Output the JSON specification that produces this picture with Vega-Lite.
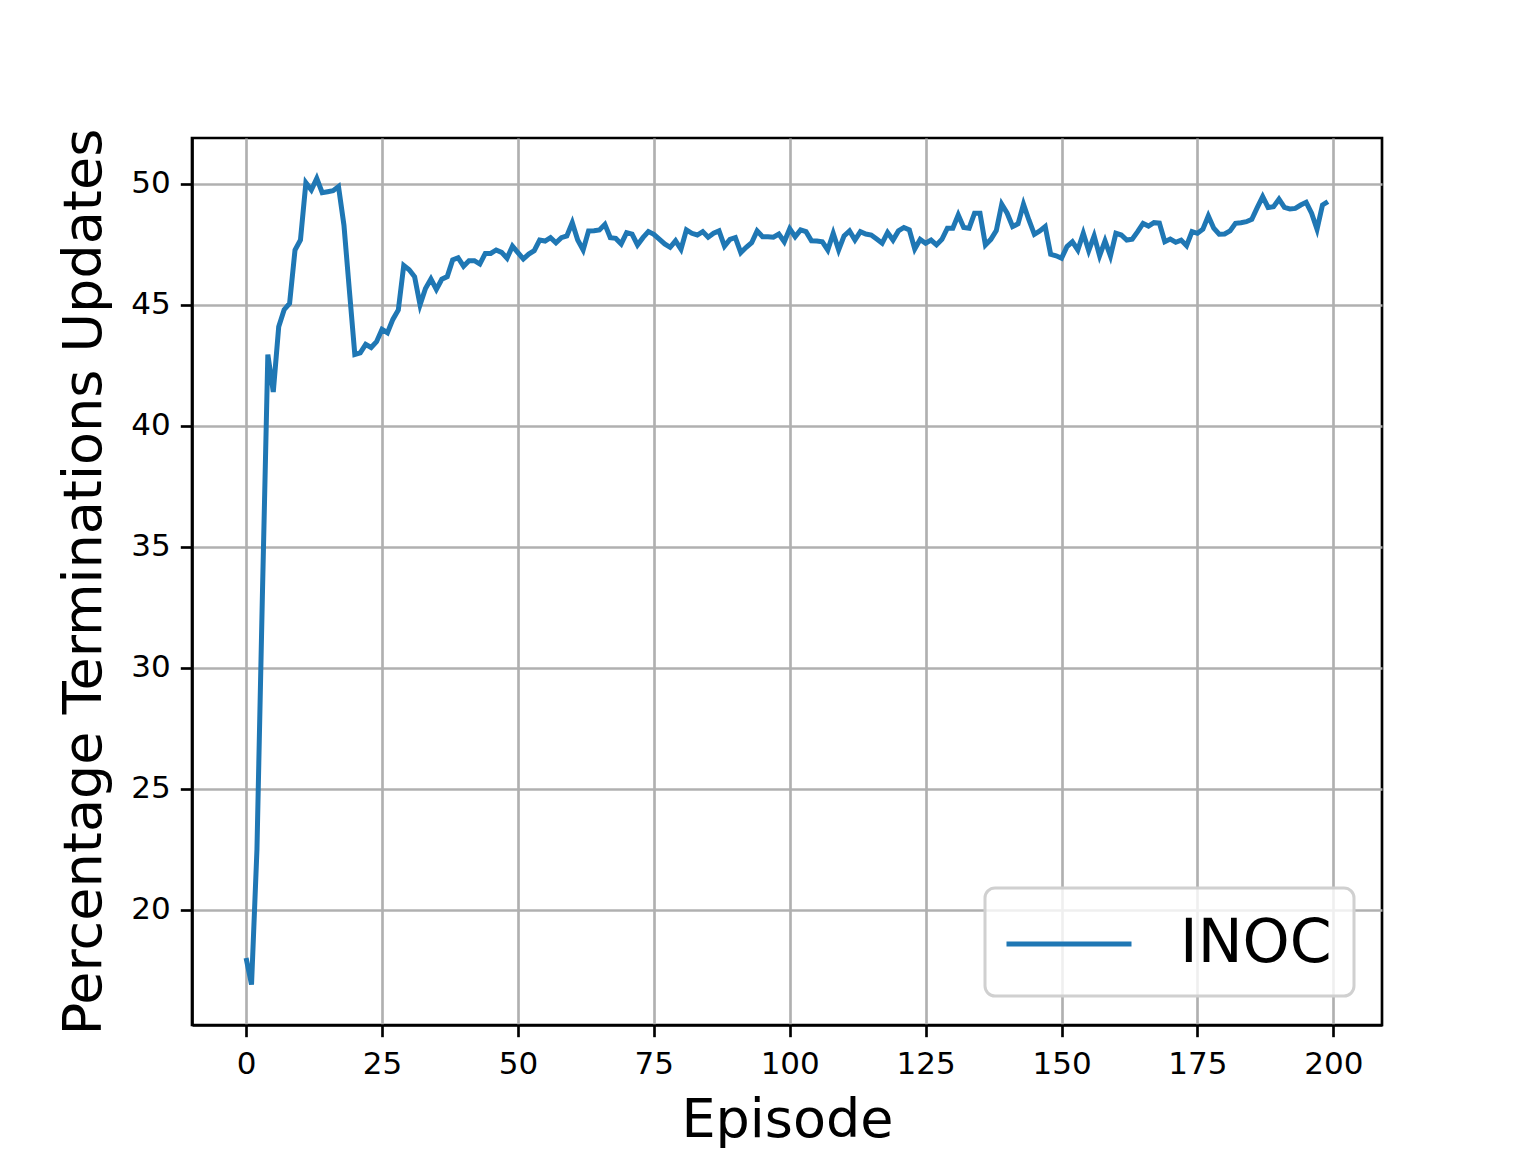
{
  "$schema": "https://vega.github.io/schema/vega-lite/v6.json",
  "width": 1190,
  "height": 887,
  "autosize": {"type": "none"},
  "padding": {"left": 192, "top": 138, "right": 154, "bottom": 127},
  "background": "white",
  "config": {
    "font": "DejaVu Sans",
    "view": {"stroke": "black", "strokeWidth": 2.67},
    "axis": {
      "domainColor": "black",
      "domainWidth": 2.67,
      "tickColor": "black",
      "tickWidth": 2.67,
      "tickSize": 11.7,
      "labelFont": "DejaVu Sans",
      "labelFontSize": 31,
      "labelColor": "black",
      "titleFont": "DejaVu Sans",
      "titleFontSize": 54,
      "titleFontWeight": "normal",
      "titleColor": "black",
      "grid": true,
      "gridColor": "#b0b0b0",
      "gridWidth": 2.67
    },
    "legend": {
      "orient": "none",
      "legendX": 793,
      "legendY": 750,
      "symbolType": "M-2,0H2",
      "symbolSize": 3906,
      "symbolStrokeWidth": 5,
      "symbolOffset": 28,
      "labelFont": "DejaVu Sans",
      "labelFontSize": 60,
      "labelColor": "black",
      "labelOffset": 77,
      "padding": 22,
      "strokeColor": "#cccccc",
      "fillColor": "rgba(255,255,255,0.8)",
      "cornerRadius": 10
    }
  },
  "data": {
    "values": [
      {"episode": 0, "pct": 18.0}, {"episode": 1, "pct": 16.9}, {"episode": 2, "pct": 22.5}, {"episode": 3, "pct": 33.0}, {"episode": 4, "pct": 42.95},
      {"episode": 5, "pct": 41.4}, {"episode": 6, "pct": 44.1}, {"episode": 7, "pct": 44.8}, {"episode": 8, "pct": 45.06}, {"episode": 9, "pct": 47.27},
      {"episode": 10, "pct": 47.68}, {"episode": 11, "pct": 50.05}, {"episode": 12, "pct": 49.75}, {"episode": 13, "pct": 50.23}, {"episode": 14, "pct": 49.64},
      {"episode": 15, "pct": 49.68}, {"episode": 16, "pct": 49.72}, {"episode": 17, "pct": 49.89}, {"episode": 18, "pct": 48.3}, {"episode": 19, "pct": 45.6},
      {"episode": 20, "pct": 42.95}, {"episode": 21, "pct": 43.02}, {"episode": 22, "pct": 43.37}, {"episode": 23, "pct": 43.24}, {"episode": 24, "pct": 43.48},
      {"episode": 25, "pct": 43.99}, {"episode": 26, "pct": 43.85}, {"episode": 27, "pct": 44.4}, {"episode": 28, "pct": 44.79}, {"episode": 29, "pct": 46.63},
      {"episode": 30, "pct": 46.45}, {"episode": 31, "pct": 46.16}, {"episode": 32, "pct": 45.0}, {"episode": 33, "pct": 45.68}, {"episode": 34, "pct": 46.07},
      {"episode": 35, "pct": 45.64}, {"episode": 36, "pct": 46.06}, {"episode": 37, "pct": 46.17}, {"episode": 38, "pct": 46.86}, {"episode": 39, "pct": 46.95},
      {"episode": 40, "pct": 46.6}, {"episode": 41, "pct": 46.83}, {"episode": 42, "pct": 46.83}, {"episode": 43, "pct": 46.69}, {"episode": 44, "pct": 47.13},
      {"episode": 45, "pct": 47.13}, {"episode": 46, "pct": 47.27}, {"episode": 47, "pct": 47.17}, {"episode": 48, "pct": 46.93}, {"episode": 49, "pct": 47.43},
      {"episode": 50, "pct": 47.16}, {"episode": 51, "pct": 46.9}, {"episode": 52, "pct": 47.1}, {"episode": 53, "pct": 47.24}, {"episode": 54, "pct": 47.68},
      {"episode": 55, "pct": 47.64}, {"episode": 56, "pct": 47.78}, {"episode": 57, "pct": 47.57}, {"episode": 58, "pct": 47.78}, {"episode": 59, "pct": 47.85},
      {"episode": 60, "pct": 48.4}, {"episode": 61, "pct": 47.68}, {"episode": 62, "pct": 47.27}, {"episode": 63, "pct": 48.06}, {"episode": 64, "pct": 48.07},
      {"episode": 65, "pct": 48.1}, {"episode": 66, "pct": 48.33}, {"episode": 67, "pct": 47.78}, {"episode": 68, "pct": 47.75}, {"episode": 69, "pct": 47.52},
      {"episode": 70, "pct": 47.99}, {"episode": 71, "pct": 47.93}, {"episode": 72, "pct": 47.48}, {"episode": 73, "pct": 47.78}, {"episode": 74, "pct": 48.03},
      {"episode": 75, "pct": 47.92}, {"episode": 76, "pct": 47.72}, {"episode": 77, "pct": 47.52}, {"episode": 78, "pct": 47.38}, {"episode": 79, "pct": 47.65},
      {"episode": 80, "pct": 47.3}, {"episode": 81, "pct": 48.1}, {"episode": 82, "pct": 47.96}, {"episode": 83, "pct": 47.89}, {"episode": 84, "pct": 48.03},
      {"episode": 85, "pct": 47.8}, {"episode": 86, "pct": 47.96}, {"episode": 87, "pct": 48.06}, {"episode": 88, "pct": 47.43}, {"episode": 89, "pct": 47.71},
      {"episode": 90, "pct": 47.78}, {"episode": 91, "pct": 47.16}, {"episode": 92, "pct": 47.38}, {"episode": 93, "pct": 47.57}, {"episode": 94, "pct": 48.06},
      {"episode": 95, "pct": 47.82}, {"episode": 96, "pct": 47.82}, {"episode": 97, "pct": 47.8}, {"episode": 98, "pct": 47.93}, {"episode": 99, "pct": 47.61},
      {"episode": 100, "pct": 48.15}, {"episode": 101, "pct": 47.82}, {"episode": 102, "pct": 48.1}, {"episode": 103, "pct": 48.03}, {"episode": 104, "pct": 47.65},
      {"episode": 105, "pct": 47.64}, {"episode": 106, "pct": 47.61}, {"episode": 107, "pct": 47.27}, {"episode": 108, "pct": 47.96}, {"episode": 109, "pct": 47.27},
      {"episode": 110, "pct": 47.85}, {"episode": 111, "pct": 48.06}, {"episode": 112, "pct": 47.68}, {"episode": 113, "pct": 48.03}, {"episode": 114, "pct": 47.93},
      {"episode": 115, "pct": 47.89}, {"episode": 116, "pct": 47.72}, {"episode": 117, "pct": 47.55}, {"episode": 118, "pct": 47.99}, {"episode": 119, "pct": 47.68},
      {"episode": 120, "pct": 48.06}, {"episode": 121, "pct": 48.2}, {"episode": 122, "pct": 48.1}, {"episode": 123, "pct": 47.31}, {"episode": 124, "pct": 47.71},
      {"episode": 125, "pct": 47.55}, {"episode": 126, "pct": 47.68}, {"episode": 127, "pct": 47.48}, {"episode": 128, "pct": 47.71}, {"episode": 129, "pct": 48.17},
      {"episode": 130, "pct": 48.17}, {"episode": 131, "pct": 48.72}, {"episode": 132, "pct": 48.2}, {"episode": 133, "pct": 48.17}, {"episode": 134, "pct": 48.79},
      {"episode": 135, "pct": 48.79}, {"episode": 136, "pct": 47.48}, {"episode": 137, "pct": 47.71}, {"episode": 138, "pct": 48.07}, {"episode": 139, "pct": 49.16},
      {"episode": 140, "pct": 48.79}, {"episode": 141, "pct": 48.24}, {"episode": 142, "pct": 48.35}, {"episode": 143, "pct": 49.16}, {"episode": 144, "pct": 48.51},
      {"episode": 145, "pct": 47.92}, {"episode": 146, "pct": 48.06}, {"episode": 147, "pct": 48.24}, {"episode": 148, "pct": 47.09}, {"episode": 149, "pct": 47.03},
      {"episode": 150, "pct": 46.93}, {"episode": 151, "pct": 47.41}, {"episode": 152, "pct": 47.61}, {"episode": 153, "pct": 47.27}, {"episode": 154, "pct": 47.96},
      {"episode": 155, "pct": 47.24}, {"episode": 156, "pct": 47.85}, {"episode": 157, "pct": 47.03}, {"episode": 158, "pct": 47.65}, {"episode": 159, "pct": 47.02},
      {"episode": 160, "pct": 47.96}, {"episode": 161, "pct": 47.89}, {"episode": 162, "pct": 47.68}, {"episode": 163, "pct": 47.72}, {"episode": 164, "pct": 48.03},
      {"episode": 165, "pct": 48.37}, {"episode": 166, "pct": 48.26}, {"episode": 167, "pct": 48.4}, {"episode": 168, "pct": 48.38}, {"episode": 169, "pct": 47.61},
      {"episode": 170, "pct": 47.72}, {"episode": 171, "pct": 47.59}, {"episode": 172, "pct": 47.68}, {"episode": 173, "pct": 47.45}, {"episode": 174, "pct": 48.03},
      {"episode": 175, "pct": 47.96}, {"episode": 176, "pct": 48.13}, {"episode": 177, "pct": 48.68}, {"episode": 178, "pct": 48.17}, {"episode": 179, "pct": 47.92},
      {"episode": 180, "pct": 47.93}, {"episode": 181, "pct": 48.06}, {"episode": 182, "pct": 48.37}, {"episode": 183, "pct": 48.4}, {"episode": 184, "pct": 48.44},
      {"episode": 185, "pct": 48.54}, {"episode": 186, "pct": 49.02}, {"episode": 187, "pct": 49.48}, {"episode": 188, "pct": 49.03}, {"episode": 189, "pct": 49.06},
      {"episode": 190, "pct": 49.37}, {"episode": 191, "pct": 49.03}, {"episode": 192, "pct": 48.97}, {"episode": 193, "pct": 48.99}, {"episode": 194, "pct": 49.13},
      {"episode": 195, "pct": 49.24}, {"episode": 196, "pct": 48.79}, {"episode": 197, "pct": 48.13}, {"episode": 198, "pct": 49.13}, {"episode": 199, "pct": 49.27}
    ]
  },
  "mark": {"type": "line", "strokeWidth": 5, "clip": true},
  "encoding": {
    "x": {
      "field": "episode",
      "type": "quantitative",
      "scale": {"domain": [-9.95, 208.95], "nice": false, "zero": false},
      "axis": {"values": [0, 25, 50, 75, 100, 125, 150, 175, 200], "title": "Episode", "titlePadding": 14, "labelPadding": 13, "labelFlush": false}
    },
    "y": {
      "field": "pct",
      "type": "quantitative",
      "scale": {"domain": [15.23, 51.9], "nice": false, "zero": false},
      "axis": {"values": [20, 25, 30, 35, 40, 45, 50], "title": "Percentage Terminations Updates", "titlePadding": 19, "labelPadding": 10, "labelFlush": false}
    },
    "color": {
      "datum": "INOC",
      "type": "nominal",
      "scale": {"range": ["#1f77b4"]},
      "legend": {
        "title": null,
        "encode": {"legend": {"update": {"strokeWidth": {"value": 3}, "stroke": {"value": "#d0d0d0"}}}}
      }
    }
  }
}
